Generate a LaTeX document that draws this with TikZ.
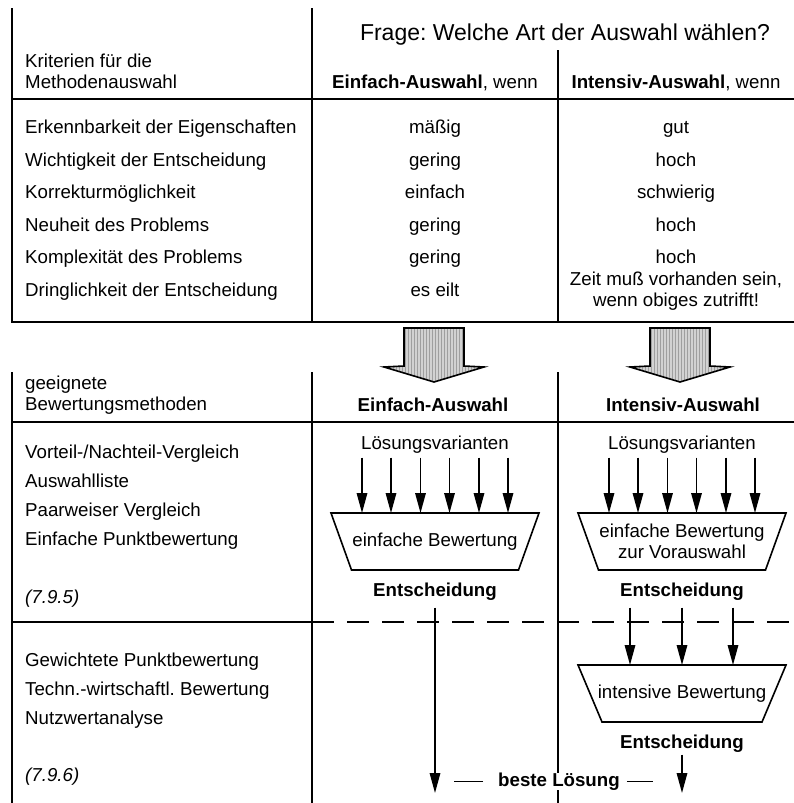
\documentclass[tikz,border=0pt]{standalone}
\usepackage{fontspec}
\setmainfont{Liberation Sans}
\usetikzlibrary{arrows.meta,shapes.geometric,patterns}
\newcommand\bodysize{\fontsize{18.7}{21}\selectfont}
\newcommand\titlesize{\fontsize{23}{27}\selectfont}
\frenchspacing

\begin{document}
\begin{tikzpicture}[x=1pt,y=-1pt,
  rule/.style={line width=1.8pt},
  txt/.style={inner sep=0pt, font=\bodysize},
  lt/.style={txt, anchor=base west, align=left},
  ct/.style={txt, anchor=base, align=center},
  bt/.style={ct, font=\bodysize\bfseries},
  arr/.style={line width=1.6pt, -{Triangle[length=20pt,width=10.5pt]}},
  bigarrow/.style={line width=1.6pt, preaction={fill=gray!35}, pattern=vertical lines, pattern color=gray!75},
  bewertung/.style={draw, line width=1.6pt, line join=miter}]
\useasboundingbox (0,0) rectangle (794,803);

% ---------- criteria table ----------
\draw[rule] (12,8) -- (12,322) -- (794,322);
\draw[rule] (312,8) -- (312,322);
\draw[rule] (558,50) -- (558,322);
\draw[rule] (12,99) -- (794,99);

% multi-line nodes: the base anchor sits on the last line
\node[txt, font=\titlesize, anchor=base] (frage) at (565,40) {Frage: Welche Art der Auswahl wählen?};
\node[lt] (krit) at (25,88.5) {Kriterien für die\\Methodenauswahl};
\node[ct] (hE) at (435,88.5) {\textbf{Einfach-Auswahl}, wenn};
\node[ct] (hI) at (676,88.5) {\textbf{Intensiv-Auswahl}, wenn};

\foreach \y/\k/\e/\i [count=\n] in {
    133.5/Erkennbarkeit der Eigenschaften/mäßig/gut,
    166/Wichtigkeit der Entscheidung/gering/hoch,
    198.5/Korrekturmöglichkeit/einfach/schwierig,
    231/Neuheit des Problems/gering/hoch,
    263.5/Komplexität des Problems/gering/hoch}{
  \node[lt] (krit\n) at (25,\y) {\k};
  \node[ct] (einf\n) at (435,\y) {\e};
  \node[ct] (int\n) at (676,\y) {\i};
}
\node[lt] (krit6) at (25,296) {Dringlichkeit der Entscheidung};
\node[ct] (einf6) at (435,296) {es eilt};
\node[ct] (int6) at (676,306.5) {Zeit muß vorhanden sein,\\wenn obiges zutrifft!};

% ---------- transition arrows ----------
\draw[bigarrow] (404,328) -- (464,328) -- (464,366) -- (484,367) -- (434,382) -- (384,367) -- (404,366) -- cycle;
\draw[bigarrow] (650,328) -- (710,328) -- (710,366) -- (730,367) -- (680,382) -- (630,367) -- (650,366) -- cycle;

% ---------- methods table ----------
\draw[rule] (12,372) -- (12,803);
\draw[rule] (312,372) -- (312,803);
\draw[rule] (558,372) -- (558,803);
\draw[rule] (12,422) -- (794,422);
\draw[rule] (12,622) -- (312,622);
\draw[rule, dash pattern=on 22pt off 13pt] (312,622) -- (794,622);

\node[lt] (geeig) at (25,410.5) {geeignete\\Bewertungsmethoden};
\node[bt] (mE) at (433,411.5) {Einfach-Auswahl};
\node[bt] (mI) at (683,411.5) {Intensiv-Auswahl};

\node[lt] (m1) at (25,458.5) {Vorteil-/Nachteil-Vergleich};
\node[lt] (m2) at (25,487.5) {Auswahlliste};
\node[lt] (m3) at (25,516.5) {Paarweiser Vergleich};
\node[lt] (m4) at (25,545.5) {Einfache Punktbewertung};
\node[lt, font=\bodysize\itshape] (ref1) at (25,603.5) {(7.9.5)};
\node[lt] (m5) at (25,666.5) {Gewichtete Punktbewertung};
\node[lt] (m6) at (25,695.5) {Techn.-wirtschaftl. Bewertung};
\node[lt] (m7) at (25,724.5) {Nutzwertanalyse};
\node[lt, font=\bodysize\itshape] (ref2) at (25,781.5) {(7.9.6)};

% ---------- selection flow ----------
\node[ct] (lv1) at (435,449.5) {Lösungsvarianten};
\node[ct] (lv2) at (682,449.5) {Lösungsvarianten};

% evaluation stages: text nodes inside trapezoid outlines (wide side on top)
\node[txt] (tz1) at (435,541.5) {einfache Bewertung};
\node[txt, align=center] (tz2) at (682,541.5) {einfache Bewertung\\zur Vorauswahl};
\node[txt] (tz3) at (682,693.5) {intensive Bewertung};
\draw[bewertung] ([xshift=-104pt, yshift=28.5pt]tz1.center) -- ++(208,0) -- ++(-20.5,57) -- ++(-167,0) -- cycle;
\draw[bewertung] ([xshift=-104pt, yshift=28.5pt]tz2.center) -- ++(208,0) -- ++(-20.5,57) -- ++(-167,0) -- cycle;
\draw[bewertung] ([xshift=-104pt, yshift=28.5pt]tz3.center) -- ++(208,0) -- ++(-24,57) -- ++(-160,0) -- cycle;

\node[bt] (ent1) at (435,596.5) {Entscheidung};
\node[bt] (ent2) at (682,596.5) {Entscheidung};
\node[bt] (ent3) at (682,748.5) {Entscheidung};
\node[bt, fill=white] (beste) at (559,786.5) {beste Lösung};
\coordinate (end1) at (435,793);
\coordinate (end2) at (682,793);

\foreach \dx in {-73,-44,-14.5,14.5,44,73}{
  \draw[arr] ([xshift=\dx pt, yshift=-4pt]lv1.south) -- ([xshift=\dx pt, yshift=28.5pt]tz1.center);
  \draw[arr] ([xshift=\dx pt, yshift=-4pt]lv2.south) -- ([xshift=\dx pt, yshift=28.5pt]tz2.center);
}
\foreach \dx in {-52,0,51}
  \draw[arr] ([xshift=\dx pt, yshift=-7pt]ent2.south) -- ([xshift=\dx pt, yshift=28.5pt]tz3.center);
\draw[arr] ([yshift=-7pt]ent1.south) -- (end1);
\draw[arr] ([yshift=-2pt]ent3.south) -- (end2);

\draw[line width=1.3pt] ([xshift=-15pt]beste.west) -- ++(-29,0);
\draw[line width=1.3pt] ([xshift=7pt]beste.east) -- ++(26,0);
\end{tikzpicture}
\end{document}
